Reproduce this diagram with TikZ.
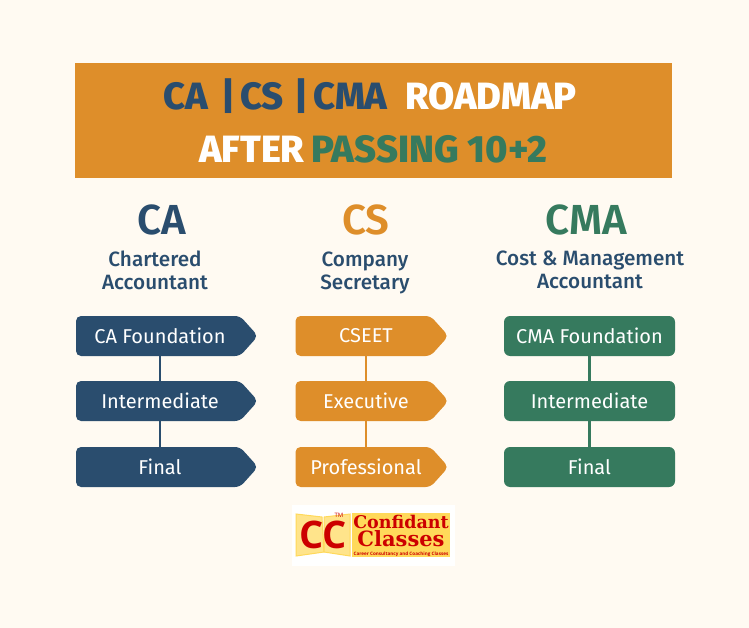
\documentclass[tikz,border=0pt]{standalone}
\usepackage{fontspec}
\setmainfont{Open Sans}
\newfontfamily\titlefont{Fira Sans ExtraBold}
\newfontfamily\headfont{Fira Sans SemiBold}
\newfontfamily\subfont{Fira Sans Medium}
\newfontfamily\stepfont{Fira Sans}
\newfontfamily\logofont{DejaVu Serif}
\usetikzlibrary{positioning,shapes.symbols}
\definecolor{pagebg}{HTML}{FFFAF2}
\definecolor{caBlue}{HTML}{2A4D6E}
\definecolor{csOrange}{HTML}{DE8E2A}
\definecolor{cmaGreen}{HTML}{367A5E}
\definecolor{logoRed}{HTML}{CC0000}
\definecolor{logoYellow}{HTML}{FFD95A}
\tikzset{
head/.style={font=\headfont\fontsize{42}{42}\selectfont,inner sep=0pt},
subhead/.style={font=\subfont\fontsize{20.7}{23}\selectfont,align=center,text=caBlue,inner sep=0pt},
titlepart/.style={font=\titlefont\fontsize{38}{38}\selectfont,inner sep=0pt,anchor=base west},
stepflag/.style={signal,signal to=east,signal pointer angle=96,rounded corners=5pt,fill=#1,text=white,
  minimum height=40pt,inner sep=0pt,font=\stepfont\fontsize{20}{20}\selectfont},
stepbox/.style={rectangle,rounded corners=6pt,fill=#1,text=white,minimum width=171pt,
  minimum height=40pt,inner sep=0pt,font=\stepfont\fontsize{20}{20}\selectfont},
link/.style={line width=2.4pt,draw=#1},
}
\begin{document}
\begin{tikzpicture}[x=1pt,y=-1pt]

        \fill[pagebg] (0,0) rectangle (749,628);
        \useasboundingbox (0,0) rectangle (749,628);

        % Title band
        \fill[csOrange] (75,63) rectangle (672,178);
        \node[titlepart,text=caBlue] (titleca) at (163,110) {CA};
        \node[titlepart,text=caBlue] (titlebara) at (221,110) {|};
        \node[titlepart,text=caBlue] (titlecs) at (240,110) {CS};
        \node[titlepart,text=caBlue] (titlebarb) at (294,110) {|};
        \node[titlepart,text=caBlue] (titlecma) at (313,110) {CMA};
        \node[titlepart,text=white] (titleroad) at (405,110) {ROADMAP};
        \node[titlepart,text=white] (titleafter) at (199,163) {AFTER};
        \node[titlepart,text=cmaGreen] (titlepass) at (311,163) {PASSING 10+2};

        % Column heads
        \node[head,text=caBlue] (caHead) at (162,220) {CA};
        \node[head,text=csOrange] (csHead) at (366,220) {CS};
        \node[head,text=cmaGreen] (cmaHead) at (586,220) {CMA};
        \node[subhead] (caSub) at (155,270) {Chartered\\Accountant};
        \node[subhead] (csSub) at (365,273) {Company\\Secretary};
        \node[subhead] (cmaSub) at (590,270) {Cost \& Management\\Accountant};

        % CA steps
        \node[stepflag=caBlue,minimum width=182pt] (caOne) at (158,336) {\hspace*{4pt}CA Foundation};
        \node[stepflag=caBlue,minimum width=182pt] (caTwo) at (158,401) {\hspace*{4pt}Intermediate};
        \node[stepflag=caBlue,minimum width=182pt] (caThree) at (158,467) {\hspace*{4pt}Final};
        \draw[link=caBlue] ([xshift=2pt]caOne.south) -- ([xshift=2pt]caTwo.north);
        \draw[link=caBlue] ([xshift=2pt]caTwo.south) -- ([xshift=2pt]caThree.north);

        % CS steps
        \node[stepflag=csOrange,minimum width=153pt] (csOne) at (363,336) {\hspace*{6pt}CSEET};
        \node[stepflag=csOrange,minimum width=153pt] (csTwo) at (363,401) {\hspace*{6pt}Executive};
        \node[stepflag=csOrange,minimum width=153pt] (csThree) at (363,467) {\hspace*{6pt}Professional};
        \draw[link=csOrange] ([xshift=3pt]csOne.south) -- ([xshift=3pt]csTwo.north);
        \draw[link=csOrange] ([xshift=3pt]csTwo.south) -- ([xshift=3pt]csThree.north);

        % CMA steps
        \node[stepbox=cmaGreen] (cmaOne) at (589.5,336) {CMA Foundation};
        \node[stepbox=cmaGreen] (cmaTwo) at (589.5,401) {Intermediate};
        \node[stepbox=cmaGreen] (cmaThree) at (589.5,467) {Final};
        \draw[link=cmaGreen] (cmaOne) -- (cmaTwo);
        \draw[link=cmaGreen] (cmaTwo) -- (cmaThree);

        % Logo
        \fill[white] (292,505) rectangle (455,566);
        \fill[logoYellow] (352,513) rectangle (450,557);
        \draw[logoYellow,fill=logoYellow!70!white,line width=1pt] (296,514) -- (322,517) -- (324,552) -- (296,556) -- cycle;
        \draw[logoYellow,fill=logoYellow!70!white,line width=1pt] (350,514) -- (324,517) -- (324,552) -- (350,556) -- cycle;
        \node[inner sep=0pt,text=logoRed,font=\bfseries\fontsize{38}{38}\selectfont] (logoCC) at (323,535) {CC};
        \node[inner sep=0pt,text=logoRed,font=\fontsize{6}{6}\selectfont] (logoTM) at (339,515) {TM};
        \node[inner sep=0pt,text=logoRed,font=\logofont\bfseries\fontsize{17.5}{17.5}\selectfont] (logoName) at (401,522) {Confidant};
        \node[inner sep=0pt,text=logoRed,font=\logofont\bfseries\fontsize{21}{21}\selectfont] (logoClasses) at (401,539) {Classes};
        \node[inner sep=0pt,text=logoRed,font=\bfseries\fontsize{4.6}{5}\selectfont] (logoTag) at (401,554) {Career Consultancy and Coaching Classes};

    \end{tikzpicture}
\end{document}
